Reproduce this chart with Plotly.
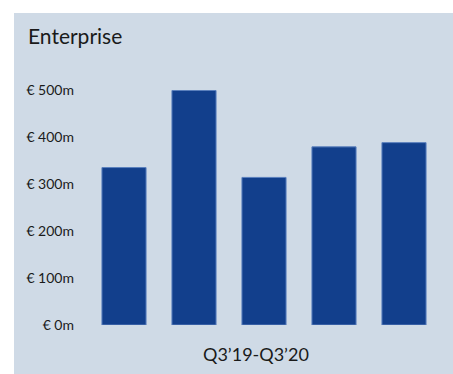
import plotly.graph_objects as go

categories = ["Q3'19", "Q4'19", "Q1'20", "Q2'20", "Q3'20"]
values = [335, 499, 314, 379, 388]
tick_vals = [0, 100, 200, 300, 400, 500]
tick_text = ["€ 0m", "€ 100m", "€ 200m", "€ 300m", "€ 400m", "€ 500m"]

W, H = 453, 374
L, R, T, B = 89, 14, 90, 49
pw, ph = W - L - R, H - T - B

def px_x(x):
    return (x - L) / pw

def px_y(y):
    return (H - B - y) / ph

fig = go.Figure()
fig.add_trace(go.Bar(
    x=categories, y=values,
    marker=dict(color="#123f8c", line=dict(color="#5a7fbd", width=1)),
    hoverinfo="skip",
))

fig.update_layout(
    width=W, height=H,
    margin=dict(l=L, r=R, t=T, b=B, pad=0),
    paper_bgcolor="white",
    plot_bgcolor="rgba(0,0,0,0)",
    bargap=0.37,
    showlegend=False,
    font=dict(family="Lato, Open Sans, sans-serif", color="#1a1a1a"),
    xaxis=dict(showticklabels=False, showgrid=False, zeroline=False, showline=False, ticks=""),
    yaxis=dict(range=[0, 500], tickvals=tick_vals, ticktext=tick_text, showgrid=False,
               zeroline=False, showline=False, ticks="", tickfont=dict(size=14, color="#1a1a1a"),
               ticklabelstandoff=14),
    shapes=[dict(type="rect", xref="paper", yref="paper",
                 x0=px_x(14), x1=px_x(453), y0=px_y(374), y1=px_y(13),
                 fillcolor="#cfdae6", line=dict(width=0), layer="below")],
    annotations=[
        dict(text="Enterprise", xref="paper", yref="paper", x=px_x(26), y=px_y(35),
             xanchor="left", yanchor="middle", showarrow=False,
             font=dict(size=21, color="#1a1a1a")),
        dict(text="Q3’19-Q3’20", xref="paper", yref="paper", x=px_x(256), y=px_y(354),
             xanchor="center", yanchor="middle", showarrow=False,
             font=dict(size=18, color="#1a1a1a")),
    ],
)

fig.write_html("out.html", config={"displayModeBar": False},
               post_script="document.body.style.margin='0';document.body.style.overflow='hidden';")
